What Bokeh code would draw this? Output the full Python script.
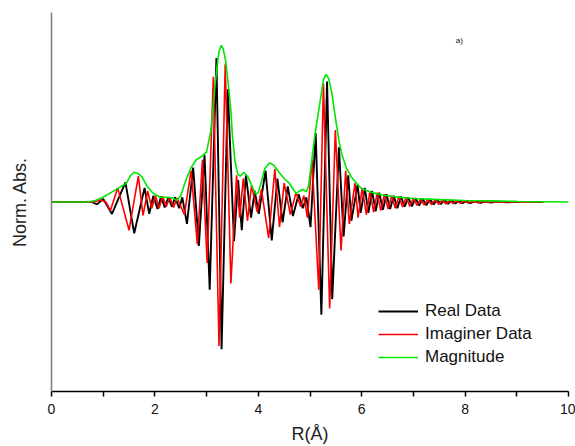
from bokeh.plotting import figure
from bokeh.models import Range1d, FixedTicker, Legend, LegendItem, Label
from bokeh.embed import file_html
from bokeh.resources import INLINE

# Real part (extrema)
real_x = [0.0, 0.5, 0.78, 0.88, 1.0, 1.17, 1.43, 1.6, 1.8, 1.89, 1.97, 2.05, 2.12, 2.19, 2.26,
          2.33, 2.39, 2.47, 2.53, 2.62, 2.74, 2.85, 2.96, 3.06, 3.19, 3.29, 3.41, 3.53, 3.61, 3.68,
          3.76, 3.86, 3.93, 4.01, 4.14, 4.26, 4.37, 4.47, 4.57, 4.67, 4.78, 4.86, 4.93, 5.01, 5.11,
          5.22, 5.33, 5.43, 5.56, 5.65, 5.74, 5.8, 5.92, 5.98, 6.06, 6.13, 6.2, 6.27, 6.34, 6.41,
          6.48, 6.55, 6.62, 6.69, 6.76, 6.83, 6.9, 6.97, 7.04, 7.11, 7.18, 7.25, 7.32, 7.39, 7.46,
          7.53, 7.6, 7.67, 7.74, 7.81, 7.88, 7.95, 8.02, 8.1, 8.2, 8.3, 8.4, 8.5, 8.6, 8.8, 9.0, 9.5]
real_y = [0, 0, 0, -0.015, 0.02, -0.076, 0.125, -0.2, 0.09, -0.075, 0.04, -0.045, 0.035, -0.035, 0.03,
          -0.03, 0.03, -0.04, 0.03, -0.14, 0.22, -0.28, 0.3, -0.56, 0.92, -0.94, 0.72, -0.25, 0.14, -0.18,
          0.17, -0.1, 0.07, -0.075, 0.2, -0.245, 0.15, -0.13, 0.1, -0.09, 0.05, -0.04, 0.03, -0.16, 0.44,
          -0.72, 0.77, -0.62, 0.35, -0.22, 0.17, -0.12, 0.11, -0.07, 0.09, -0.07, 0.07, -0.06, 0.06, -0.05,
          0.05, -0.045, 0.04, -0.04, 0.035, -0.03, 0.03, -0.028, 0.025, -0.022, 0.02, -0.02, 0.018, -0.016, 0.014,
          -0.014, 0.012, -0.012, 0.01, -0.01, 0.008, -0.008, 0.007, -0.007, 0.005, -0.005, 0.004, -0.004, 0.003,
          -0.002, 0.001, 0]

# Imaginary part (extrema)
imag_x = [0.0, 0.8, 0.95, 1.05, 1.14, 1.28, 1.5, 1.68, 1.77, 1.86, 1.94, 2.01, 2.08, 2.15, 2.22,
          2.29, 2.36, 2.43, 2.57, 2.7, 2.82, 2.92, 3.01, 3.13, 3.24, 3.36, 3.47, 3.58, 3.64, 3.71,
          3.79, 3.87, 3.98, 4.06, 4.2, 4.32, 4.41, 4.5, 4.62, 4.73, 4.82, 4.88, 4.95, 5.04, 5.17,
          5.26, 5.38, 5.49, 5.6, 5.69, 5.76, 5.87, 5.93, 6.01, 6.09, 6.16, 6.23, 6.3, 6.37, 6.44,
          6.51, 6.58, 6.65, 6.72, 6.79, 6.86, 6.93, 7.0, 7.07, 7.14, 7.21, 7.28, 7.35, 7.42, 7.49,
          7.56, 7.63, 7.7, 7.77, 7.84, 7.91, 7.98, 8.06, 8.15, 8.25, 8.35, 8.45, 8.55, 8.7, 8.9, 9.1, 9.52]
imag_y = [0, 0, 0.012, 0.0, -0.055, 0.09, -0.18, 0.165, -0.085, 0.07, -0.04, 0.04, -0.04, 0.035, -0.03,
          0.03, -0.035, 0.025, -0.08, 0.2, -0.27, 0.27, -0.39, 0.8, -0.92, 0.88, -0.52, 0.17, -0.1, 0.15,
          -0.12, 0.107, -0.065, 0.08, -0.23, 0.21, -0.16, 0.12, -0.08, 0.06, -0.03, 0.04, -0.1, 0.27, -0.56,
          0.755, -0.68, 0.46, -0.31, 0.2, -0.14, 0.12, -0.1, 0.09, -0.08, 0.07, -0.065, 0.06, -0.055, 0.05,
          -0.045, 0.04, -0.04, 0.035, -0.032, 0.03, -0.027, 0.025, -0.022, 0.02, -0.02, 0.018, -0.016, 0.015, -0.014,
          0.012, -0.012, 0.01, -0.01, 0.009, -0.008, 0.007, -0.006, 0.005, -0.005, 0.004, -0.003, 0.003, -0.002,
          0.002, -0.001, 0]

# Magnitude
mag_x = [0.0, 0.7, 0.85, 1.0, 1.15, 1.3, 1.45, 1.53, 1.6, 1.68, 1.75, 1.85, 1.95, 2.1, 2.25,
         2.35, 2.42, 2.5, 2.6, 2.7, 2.8, 2.9, 3.0, 3.08, 3.15, 3.2, 3.24, 3.28, 3.32, 3.37,
         3.43, 3.47, 3.5, 3.55, 3.6, 3.65, 3.72, 3.8, 3.88, 3.95, 4.0, 4.06, 4.12, 4.22, 4.3,
         4.4, 4.5, 4.6, 4.68, 4.73, 4.8, 4.86, 4.93, 4.97, 5.04, 5.1, 5.2, 5.26, 5.31, 5.36,
         5.42, 5.5, 5.56, 5.62, 5.7, 5.8, 5.9, 6.0, 6.2, 6.4, 6.6, 6.8, 7.0, 7.5, 8.0,
         8.5, 9.0, 9.5, 10.0]
mag_y = [0.0, 0.0, 0.01, 0.03, 0.06, 0.09, 0.12, 0.17, 0.19, 0.18, 0.16, 0.1, 0.06, 0.03, 0.03,
         0.025, 0.01, 0.04, 0.14, 0.22, 0.27, 0.29, 0.32, 0.45, 0.7, 0.86, 0.96, 1.0, 0.98, 0.9,
         0.72, 0.58, 0.42, 0.26, 0.18, 0.165, 0.19, 0.16, 0.1, 0.05, 0.06, 0.13, 0.21, 0.25, 0.235,
         0.19, 0.15, 0.12, 0.08, 0.055, 0.07, 0.08, 0.065, 0.1, 0.28, 0.44, 0.65, 0.78, 0.815, 0.79,
         0.7, 0.52, 0.39, 0.3, 0.22, 0.16, 0.12, 0.085, 0.06, 0.045, 0.035, 0.028, 0.022, 0.015, 0.01,
         0.007, 0.004, 0.002, 0.0]

x_ticks = [0, 2, 4, 6, 8, 10]
x_minor = [1, 3, 5, 7, 9]

FONT = "Liberation Sans"

p = figure(width=575, height=446, output_backend="svg", toolbar_location=None,
           x_range=Range1d(0, 10), y_range=Range1d(-1.21, 1.21),
           min_border_left=51, min_border_right=7, min_border_top=12, min_border_bottom=54)
p.outline_line_color = None
p.xgrid.visible = False
p.ygrid.visible = False
p.background_fill_color = "white"
p.border_fill_color = "white"

r_real = p.line(real_x, real_y, line_color="#000000", line_width=1.9)
r_imag = p.line(imag_x, imag_y, line_color="#ff0000", line_width=1.6)
r_mag = p.line(mag_x, mag_y, line_color="#00e600", line_width=1.6)

# x axis
xa = p.xaxis[0]
xa.ticker = FixedTicker(ticks=x_ticks, minor_ticks=x_minor)
xa.axis_line_color = "black"
xa.axis_line_width = 1.6
xa.major_tick_line_color = "black"
xa.minor_tick_line_color = "black"
xa.major_tick_line_width = 1.5
xa.minor_tick_line_width = 1.5
xa.major_tick_in = 0
xa.major_tick_out = 5
xa.minor_tick_in = 0
xa.minor_tick_out = 5
xa.major_label_text_font = FONT
xa.major_label_text_font_size = "14px"
xa.major_label_text_color = "#111111"
xa.major_label_standoff = 7
xa.axis_label = "R(Å)"
xa.axis_label_text_font = FONT
xa.axis_label_text_font_size = "18px"
xa.axis_label_text_font_style = "normal"
xa.axis_label_text_color = "#222222"
xa.axis_label_standoff = 7

# y axis
ya = p.yaxis[0]
ya.ticker = FixedTicker(ticks=[])
ya.major_label_text_font_size = "0px"
ya.axis_line_color = "#808080"
ya.axis_line_width = 1.6
ya.major_tick_line_color = None
ya.minor_tick_line_color = None
ya.axis_label = "Norm. Abs."
ya.axis_label_text_font = FONT
ya.axis_label_text_font_size = "18px"
ya.axis_label_text_font_style = "normal"
ya.axis_label_text_color = "#222222"
ya.axis_label_standoff = 22

legend = Legend(items=[LegendItem(label="Real Data", renderers=[r_real]),
                       LegendItem(label="Imaginer Data", renderers=[r_imag]),
                       LegendItem(label="Magnitude", renderers=[r_mag])],
                location=(327, 24))
legend.border_line_color = None
legend.background_fill_alpha = 0
legend.glyph_width = 40
legend.glyph_height = 20
legend.label_standoff = 7
legend.spacing = 3
legend.padding = 0
legend.margin = 0
legend.label_text_font = FONT
legend.label_text_font_size = "17px"
legend.label_text_color = "#111111"
p.add_layout(legend, "center")

p.add_layout(Label(x=7.89, y=1.03, text="a)", text_font=FONT, text_font_size="8px",
                   text_align="center", text_baseline="middle", text_color="#111111"))

open("out.html", "w").write(file_html(p, INLINE))
